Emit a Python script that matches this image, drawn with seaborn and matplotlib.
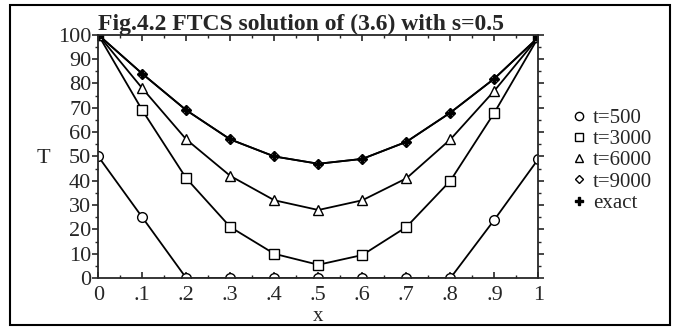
import numpy as np
import pandas as pd
import seaborn as sns
import matplotlib
import matplotlib.pyplot as plt
from matplotlib.lines import Line2D
from matplotlib.patches import Rectangle
from matplotlib.ticker import MultipleLocator
matplotlib.use('Agg')

x = [0, .1, .2, .3, .4, .5, .6, .7, .8, .9, 1]
t500 = [50, 25, 0, 0, 0, 0, 0, 0, 0, 24, 49]
t3000 = [100, 69, 41, 21, 10, 5.5, 9.5, 21, 40, 68, 99]
t6000 = [100, 78, 57, 42, 32, 28, 32, 41, 57, 77, 99]
t9000 = [100, 84, 69, 57, 50, 47, 49, 56, 68, 82, 99]
exact = [100, 84, 69, 57, 50, 47, 49, 56, 68, 82, 99]
labels = ["t=500", "t=3000", "t=6000", "t=9000", "exact"]
xtick_labels = ["0", ".1", ".2", ".3", ".4", ".5", ".6", ".7", ".8", ".9", "1"]

sns.set_style("ticks")
plt.rcParams['font.family'] = ['Liberation Serif', 'DejaVu Serif']

fig = plt.figure(figsize=(6.73, 3.28), dpi=100)
ax = fig.add_axes([0.146, 0.152, 0.654, 0.742])

series = [t500, t3000, t6000, t9000, exact]
styles = [
    dict(marker="o", mfc="white", ms=7),
    dict(marker="s", mfc="white", ms=7),
    dict(marker="^", mfc="white", ms=7),
    dict(marker="D", mfc="white", ms=5),
    dict(marker="P", mfc="black", ms=6),
]
for vals, lab, st in zip(series, labels, styles):
    df = pd.DataFrame({"x": x, "T": vals})
    sns.lineplot(data=df, x="x", y="T", color="black", lw=1.3,
                 mec="black", mew=1.0, ax=ax, **st)

ax.set_xlim(0, 1)
ax.set_ylim(0, 100)
ax.set_xticks(x)
ax.set_xticklabels(xtick_labels)
ax.set_yticks(range(0, 101, 10))
ax.xaxis.set_minor_locator(MultipleLocator(0.05))
ax.yaxis.set_minor_locator(MultipleLocator(5))
ax.tick_params(axis="x", which="both", direction="in", top=True, labelsize=16,
               pad=6)
ax.tick_params(axis="y", which="both", direction="out", labelsize=16, pad=1)
ax.tick_params(which="major", length=4, width=1.2)
ax.tick_params(which="minor", length=2.5, width=1.0)
ax.tick_params(axis="y", which="both", right=True)
for sp in ax.spines.values():
    sp.set_linewidth(1.3)

ax.set_xlabel("x", fontsize=15, labelpad=1)
ax.set_ylabel("T", fontsize=16, rotation=0, va="center")
ax.yaxis.set_label_coords(-0.125, 0.49)
ax.set_title("Fig.4.2 FTCS solution of (3.6) with s=0.5", fontsize=17,
             fontweight="bold", pad=0, x=0.46)

handles = [Line2D([], [], color="black", ls="none", mec="black", mew=1.0,
                  **dict(st, ms=st["ms"] * 0.85)) for st in styles]
fig.legend(handles, labels, loc="upper left", bbox_to_anchor=(0.83, 0.695),
           frameon=False, fontsize=15, handletextpad=0.05, labelspacing=0.08,
           handlelength=1.2, borderaxespad=0)

fig.patches.append(Rectangle((0.015, 0.008), 0.98, 0.977, transform=fig.transFigure,
                             fill=False, ec="black", lw=1.5))

fig.savefig("out.png", dpi=100)
